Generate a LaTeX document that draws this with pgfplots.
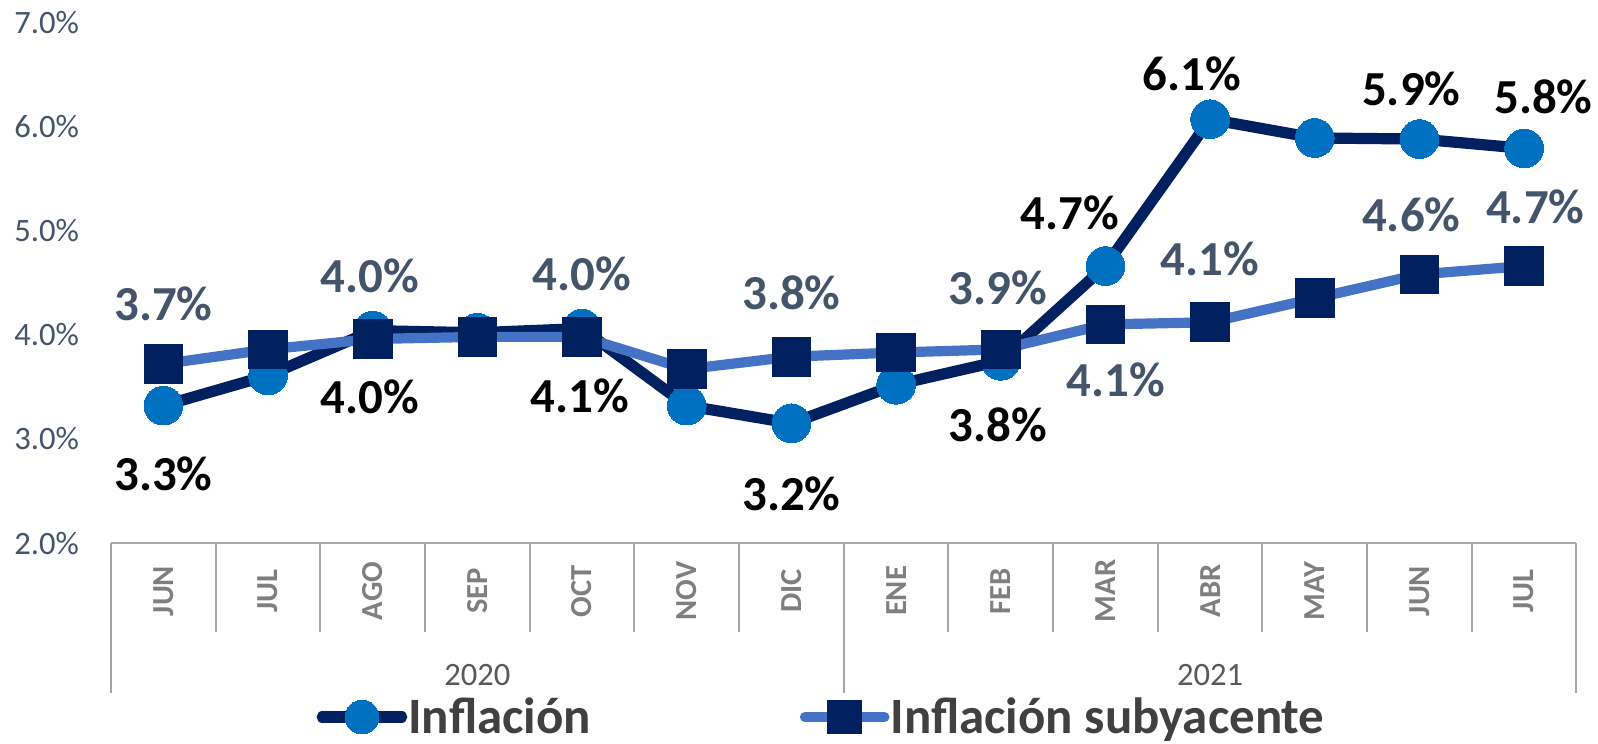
\documentclass[border=0pt]{standalone}
\usepackage{fontspec}
\setmainfont{Carlito}
\usepackage{pgfplots}
\pgfplotsset{compat=1.18}
\definecolor{navy}{HTML}{002060}
\definecolor{mblue}{HTML}{0070C0}
\definecolor{lblue}{HTML}{4472C4}
\definecolor{slate}{HTML}{44546A}
\definecolor{gridg}{HTML}{A6A6A6}
\definecolor{mgrey}{HTML}{7F7F7F}
\definecolor{ygrey}{HTML}{595959}
\definecolor{legt}{HTML}{404040}
\begin{document}
\begin{tikzpicture}
\begin{axis}[
  scale only axis, width=719pt, height=255.5pt,
  xmin=-0.5, xmax=13.5, ymin=2, ymax=7,
  axis line style={draw=none},
  major tick length=0pt,
  xtick=\empty,
  ytick={2,3,4,5,6,7},
  yticklabels={2.0\%,3.0\%,4.0\%,5.0\%,6.0\%,7.0\%},
  yticklabel style={font=\fontsize{16}{18}\selectfont, text=slate, inner xsep=0pt, xshift=-15.5pt},
  clip=false,
  legend style={at={(axis cs:1.46,0.33)}, anchor=west, draw=none, fill=none, inner sep=0pt,
    font=\fontsize{25}{30}\selectfont\bfseries, text=legt,
    /tikz/every even column/.append style={column sep=102pt},
    nodes={inner xsep=0.5pt, inner ysep=0pt}},
  legend columns=2,
  legend image code/.code={
    \draw[mark repeat=2,mark phase=2,#1,mark size=8.3pt,line cap=round] plot coordinates {(0pt,0pt) (19.5pt,0pt) (39pt,0pt)};
  },
]
\addplot[navy, line width=5.5pt, line join=round, mark=*, mark size=9.5pt,
  mark options={fill=mblue, draw=mblue, line width=0pt}] coordinates {
  (0,3.32) (1,3.61) (2,4.04) (3,4.02) (4,4.06) (5,3.32) (6,3.15)
  (7,3.52) (8,3.75) (9,4.66) (10,6.07) (11,5.89) (12,5.88) (13,5.79)};
\addlegendentry{Inflación}
\addplot[lblue, line width=5pt, line join=round, mark=square*, mark size=9.5pt,
  mark options={fill=navy, draw=navy, line width=0pt}] coordinates {
  (0,3.72) (1,3.86) (2,3.96) (3,3.98) (4,3.98) (5,3.67) (6,3.79)
  (7,3.83) (8,3.86) (9,4.10) (10,4.12) (11,4.35) (12,4.58) (13,4.66)};
\addlegendentry{Inflación subyacente}

% category table
\draw[gridg, line width=1pt] (axis cs:-0.5,2) -- (axis cs:13.5,2);
\draw[gridg, line width=1pt] (axis cs:-0.5,2) -- ++(0pt,-73.5pt);
\draw[gridg, line width=1pt] (axis cs:6.5,2) -- ++(0pt,-73.5pt);
\draw[gridg, line width=1pt] (axis cs:13.5,2) -- ++(0pt,-73.5pt);
\draw[gridg, line width=1pt] (axis cs:0.5,2) -- ++(0pt,-43.5pt);
\draw[gridg, line width=1pt] (axis cs:1.5,2) -- ++(0pt,-43.5pt);
\draw[gridg, line width=1pt] (axis cs:2.5,2) -- ++(0pt,-43.5pt);
\draw[gridg, line width=1pt] (axis cs:3.5,2) -- ++(0pt,-43.5pt);
\draw[gridg, line width=1pt] (axis cs:4.5,2) -- ++(0pt,-43.5pt);
\draw[gridg, line width=1pt] (axis cs:5.5,2) -- ++(0pt,-43.5pt);
\draw[gridg, line width=1pt] (axis cs:7.5,2) -- ++(0pt,-43.5pt);
\draw[gridg, line width=1pt] (axis cs:8.5,2) -- ++(0pt,-43.5pt);
\draw[gridg, line width=1pt] (axis cs:9.5,2) -- ++(0pt,-43.5pt);
\draw[gridg, line width=1pt] (axis cs:10.5,2) -- ++(0pt,-43.5pt);
\draw[gridg, line width=1pt] (axis cs:11.5,2) -- ++(0pt,-43.5pt);
\draw[gridg, line width=1pt] (axis cs:12.5,2) -- ++(0pt,-43.5pt);

\tikzset{mon/.style={rotate=90, font=\fontsize{15}{18}\selectfont\bfseries, text=mgrey}}
\node[mon] at ([yshift=-23.5pt]axis cs:0,2) {JUN};
\node[mon] at ([yshift=-23.5pt]axis cs:1,2) {JUL};
\node[mon] at ([yshift=-23.5pt]axis cs:2,2) {AGO};
\node[mon] at ([yshift=-23.5pt]axis cs:3,2) {SEP};
\node[mon] at ([yshift=-23.5pt]axis cs:4,2) {OCT};
\node[mon] at ([yshift=-23.5pt]axis cs:5,2) {NOV};
\node[mon] at ([yshift=-23.5pt]axis cs:6,2) {DIC};
\node[mon] at ([yshift=-23.5pt]axis cs:7,2) {ENE};
\node[mon] at ([yshift=-23.5pt]axis cs:8,2) {FEB};
\node[mon] at ([yshift=-23.5pt]axis cs:9,2) {MAR};
\node[mon] at ([yshift=-23.5pt]axis cs:10,2) {ABR};
\node[mon] at ([yshift=-23.5pt]axis cs:11,2) {MAY};
\node[mon] at ([yshift=-23.5pt]axis cs:12,2) {JUN};
\node[mon] at ([yshift=-23.5pt]axis cs:13,2) {JUL};
\node[font=\fontsize{16}{18}\selectfont, text=ygrey] at ([yshift=-64.5pt]axis cs:3,2) {2020};
\node[font=\fontsize{16}{18}\selectfont, text=ygrey] at ([yshift=-64.5pt]axis cs:10,2) {2021};

% data labels: Inflacion
\tikzset{li/.style={font=\fontsize{24}{28}\selectfont\bfseries, text=black, inner sep=0pt}}
\node[li] at ([yshift=-33.5pt]axis cs:0,3.32) {3.3\%};
\node[li] at ([yshift=-32.5pt,xshift=-1.5pt]axis cs:2,4.04) {4.0\%};
\node[li] at ([yshift=-33pt,xshift=-1pt]axis cs:4,4.06) {4.1\%};
\node[li] at ([yshift=-34.5pt]axis cs:6,3.15) {3.2\%};
\node[li] at ([yshift=-31.5pt,xshift=-1.5pt]axis cs:8,3.75) {3.8\%};
\node[li] at ([yshift=26pt,xshift=-17.5pt]axis cs:9,4.66) {4.7\%};
\node[li] at ([yshift=22.5pt,xshift=-9pt]axis cs:10,6.07) {6.1\%};
\node[li] at ([yshift=24.5pt,xshift=-4pt]axis cs:12,5.88) {5.9\%};
\node[li] at ([yshift=25.5pt,xshift=9.5pt]axis cs:13,5.79) {5.8\%};
% data labels: subyacente
\tikzset{ls/.style={font=\fontsize{24}{28}\selectfont\bfseries, text=slate, inner sep=0pt}}
\node[ls] at ([yshift=29.5pt]axis cs:0,3.72) {3.7\%};
\node[ls] at ([yshift=31pt,xshift=-1.5pt]axis cs:2,3.96) {4.0\%};
\node[ls] at ([yshift=31pt]axis cs:4,3.98) {4.0\%};
\node[ls] at ([yshift=31.5pt]axis cs:6,3.79) {3.8\%};
\node[ls] at ([yshift=30pt,xshift=-1.5pt]axis cs:8,3.86) {3.9\%};
\node[ls] at ([yshift=-27pt,xshift=5pt]axis cs:9,4.10) {4.1\%};
\node[ls] at ([yshift=31pt]axis cs:10,4.12) {4.1\%};
\node[ls] at ([yshift=29pt,xshift=-4pt]axis cs:12,4.58) {4.6\%};
\node[ls] at ([yshift=29pt,xshift=5.5pt]axis cs:13,4.66) {4.7\%};

\coordinate (tl) at (axis cs:-1.561,7.215);
\coordinate (br) at (axis cs:13.706,0.072);
\end{axis}
\pgfresetboundingbox
\path[use as bounding box] (tl) rectangle (br);
\end{tikzpicture}
\end{document}
